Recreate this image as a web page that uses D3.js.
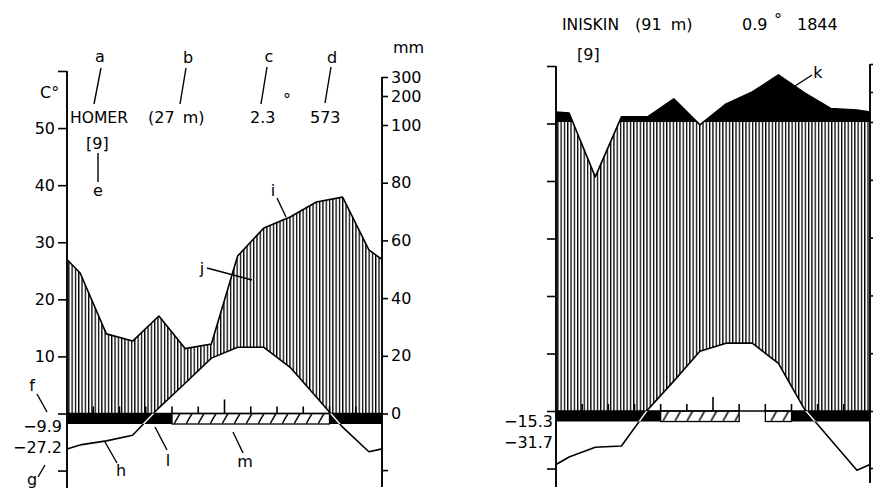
<!DOCTYPE html>
<html><head><meta charset="utf-8">
<script src="https://cdn.jsdelivr.net/npm/d3@7"></script>
<style>
html,body{margin:0;padding:0;background:#fff;}
svg{display:block;background:#fff;}
text{font-family:"DejaVu Sans",sans-serif;font-size:16px;fill:#000;}
</style></head><body>
<svg id="chart" width="873" height="494"></svg>
<script>
// ---- data ----
const months = ["Jan","Feb","Mar","Apr","May","Jun","Jul","Aug","Sep","Oct","Nov","Dec"];
const homerTemp = [-5.5,-4.8,-3.8,1.0,5.3,9.7,11.6,11.6,8.1,2.9,-2.4,-6.7];
const homerTempEdge = -6.2;
const homerPrecip = [48.7,27.6,25.1,33.8,22.5,24.1,54.6,64.3,68.1,73.3,75.0,56.7];
const homerPrecipEdge = 53.4;
const homerFrost = [2,2,2,2,1,1,1,1,1,1,2,2];   // 2 = mean daily min < 0, 1 = abs. min < 0, 0 = none
const iniskinTemp = [-8.0,-6.3,-6.1,0.2,5.2,10.4,11.8,11.8,8.3,0.3,-5.0,-10.3];
const iniskinTempEdge = -9.3;
const iniskinPrecip = [130,81,117,117,177,99,160,200,261,197,145,140];
const iniskinPrecipEdge = 133;
const iniskinFrost = [2,2,2,2,1,1,1,0,1,2,2,2];
const stationNames = ["HOMER","INISKIN"];
const stationElevNum = ["(27","(91"];
const stationElevUnit = [" m)"," m)"];
const stationMeanTemp = ["2.3","0.9"];
const stationAnnualPrecip = ["573","1844"];
const stationYears = ["[9]","[9]"];
const stationMinLabels = [["−9.9","−27.2"],["−15.3","−31.7"]];
const tempTicks = [60,50,40,30,20,10,0,-10];
const tempTickLabels = [50,40,30,20,10];
const mmTicks = [300,200,100,80,60,40,20,0];
const mmTickLabels = [300,200,100,80,60,40,20,0];

// ---- layout ----
const charts = [
  {temp:homerTemp, tempEdge:homerTempEdge, precip:homerPrecip, precipEdge:homerPrecipEdge, frost:homerFrost,
   x0:67, x1:382, zeroY:413.5, topY:71, bottomL:488, bottomR:487, mmRange:[413.5,125,96,77], labels:true,
   title:{nameX:70, nameY:123, nameLen:58, elevX:148, elevDx:3, tX:250, degX:287, degY:105, pX:310, yrX:86, yrY:149},
   minLab:{x:62, y1:18.5, y2:39.5}},
  {temp:iniskinTemp, tempEdge:iniskinTempEdge, precip:iniskinPrecip, precipEdge:iniskinPrecipEdge, frost:iniskinFrost,
   x0:556, x1:870, zeroY:411, topY:66, bottomL:487, bottomR:483, mmRange:[411,122,92,64], labels:false,
   title:{nameX:562, nameY:30, nameLen:57, elevX:635, elevDx:4, tX:742, degX:778, degY:25, pX:797, yrX:577, yrY:60},
   minLab:{x:553, y1:16, y2:37}}
];

const svg = d3.select("#chart");
const defs = svg.append("defs");
const SW = 1.6;

function runs(codes, code){
  const r=[]; let s=null;
  codes.forEach((c,i)=>{ if(c===code){ if(s===null) s=i; } else if(s!==null){ r.push([s,i]); s=null; } });
  if(s!==null) r.push([s,codes.length]);
  return r;
}

function drawChart(cfg, idx){
  const g = svg.append("g");
  const x = d3.scaleLinear().domain([0,12]).range([cfg.x0, cfg.x1]);
  const yT = d3.scaleLinear().domain([0,60]).range([cfg.zeroY, cfg.topY]);
  const yP = d3.scaleLinear().domain([0,100,200,300]).range(cfg.mmRange);
  const y0 = yT(0);
  const barH = 10.5;

  const tPts = [{m:0,v:cfg.tempEdge}].concat(cfg.temp.map((v,i)=>({m:i+0.5,v})), [{m:12,v:cfg.tempEdge}]);
  const pPts = [{m:0,v:cfg.precipEdge}].concat(cfg.precip.map((v,i)=>({m:i+0.5,v})), [{m:12,v:cfg.precipEdge}]);
  const lineT = d3.line().x(d=>x(d.m)).y(d=>yT(d.v));
  const lineP = d3.line().x(d=>x(d.m)).y(d=>yP(d.v));

  // clip paths
  defs.append("clipPath").attr("id","pc"+idx).append("path")
    .attr("d", d3.area().x(d=>x(d.m)).y0(y0).y1(d=>yP(d.v))(pPts));
  defs.append("clipPath").attr("id","tc"+idx).append("path")
    .attr("d", d3.area().x(d=>x(d.m)).y0(0).y1(d=>yT(d.v))(tPts));
  defs.append("clipPath").attr("id","kc"+idx).append("rect")
    .attr("x",x(0)).attr("y",0).attr("width",x(12)-x(0)).attr("height",yP(100));
  const bc = defs.append("clipPath").attr("id","bc"+idx);

  // patterns
  const vp = defs.append("pattern").attr("id","vh"+idx).attr("patternUnits","userSpaceOnUse")
    .attr("x",x(0)+1.2).attr("y",0).attr("width",3.3).attr("height",10);
  vp.append("rect").attr("x",0).attr("y",0).attr("width",1.3).attr("height",10).attr("fill","#000");
  const dp = defs.append("pattern").attr("id","dh"+idx).attr("patternUnits","userSpaceOnUse")
    .attr("x",x(4)+2).attr("y",y0).attr("width",12).attr("height",barH);
  dp.append("path").attr("d",`M0,${barH} L6,0`).attr("stroke","#000").attr("stroke-width",1.5).attr("fill","none");

  // humid period hatching
  g.append("g").attr("clip-path",`url(#pc${idx})`)
    .append("g").attr("clip-path",`url(#tc${idx})`)
    .append("rect").attr("x",x(0)).attr("y",0).attr("width",x(12)-x(0)).attr("height",y0)
    .attr("fill",`url(#vh${idx})`);

  // precipitation above 100 mm (black)
  g.append("path").attr("d", d3.area().x(d=>x(d.m)).y0(yP(100)).y1(d=>yP(d.v))(pPts))
    .attr("clip-path",`url(#kc${idx})`).attr("fill","#000");

  // frost bars
  runs(cfg.frost,2).forEach(([s,e])=>{
    g.append("rect").attr("x",x(s)).attr("y",y0).attr("width",x(e)-x(s)).attr("height",barH).attr("fill","#000");
    bc.append("rect").attr("x",x(s)).attr("y",y0).attr("width",x(e)-x(s)).attr("height",barH);
  });
  runs(cfg.frost,1).forEach(([s,e])=>{
    g.append("rect").attr("x",x(s)).attr("y",y0).attr("width",x(e)-x(s)).attr("height",barH)
      .attr("fill",`url(#dh${idx})`).attr("stroke","#000").attr("stroke-width",1.3);
  });

  // zero line and month ticks
  g.append("line").attr("x1",x(0)).attr("x2",x(12)).attr("y1",y0).attr("y2",y0)
    .attr("stroke","#000").attr("stroke-width",SW);
  d3.range(1,12).forEach(b=>{
    g.append("line").attr("x1",x(b)).attr("x2",x(b)).attr("y1",y0).attr("y2",y0-(b===6?14:7))
      .attr("stroke","#000").attr("stroke-width",SW);
  });

  // curves
  g.append("path").attr("d",lineP(pPts)).attr("fill","none").attr("stroke","#000").attr("stroke-width",SW).attr("stroke-linejoin","round");
  g.append("path").attr("d",lineT(tPts)).attr("fill","none").attr("stroke","#000").attr("stroke-width",SW).attr("stroke-linejoin","round");
  g.append("path").attr("d",lineT(tPts)).attr("fill","none").attr("stroke","#fff").attr("stroke-width",1.4)
    .attr("clip-path",`url(#bc${idx})`);

  // left axis (temperature)
  const la = g.append("g").attr("transform",`translate(${x(0)},0)`)
    .call(d3.axisLeft(yT).tickValues(tempTicks).tickSize(9).tickSizeOuter(0).tickPadding(3)
      .tickFormat(d=> (cfg.labels && tempTickLabels.includes(d)) ? d : ""));
  la.select(".domain").remove();
  la.selectAll(".tick line").attr("stroke","#000").attr("stroke-width",SW);
  la.append("line").attr("x1",0).attr("x2",0).attr("y1",yT(60)).attr("y2",cfg.bottomL).attr("stroke","#000").attr("stroke-width",1.9);

  // right axis (precipitation)
  const ra = g.append("g").attr("transform",`translate(${x(12)},0)`)
    .call(d3.axisRight(yP).tickValues(mmTicks).tickSize(6).tickSizeOuter(0).tickPadding(3)
      .tickFormat(d=> (cfg.labels && mmTickLabels.includes(d)) ? d : ""));
  ra.select(".domain").remove();
  ra.selectAll(".tick line").attr("stroke","#000").attr("stroke-width",SW);
  ra.append("line").attr("x1",0).attr("x2",6).attr("y1",yT(-10)).attr("y2",yT(-10)).attr("stroke","#000").attr("stroke-width",SW);
  ra.append("line").attr("x1",0).attr("x2",0).attr("y1",yP(300)).attr("y2",cfg.bottomR).attr("stroke","#000").attr("stroke-width",1.9);

  // titles
  const t = cfg.title;
  g.append("text").attr("x",t.nameX).attr("y",t.nameY).attr("textLength",t.nameLen).attr("lengthAdjust","spacingAndGlyphs").text(stationNames[idx]);
  const et = g.append("text").attr("x",t.elevX).attr("y",t.nameY).attr("xml:space","preserve");
  et.append("tspan").text(stationElevNum[idx]);
  et.append("tspan").attr("dx",t.elevDx).text(stationElevUnit[idx]);
  g.append("text").attr("x",t.tX).attr("y",t.nameY).text(stationMeanTemp[idx]);
  g.append("text").attr("x",t.degX).attr("y",t.degY).attr("text-anchor","middle").text("°");
  g.append("text").attr("x",t.pX).attr("y",t.nameY).text(stationAnnualPrecip[idx]);
  g.append("text").attr("x",t.yrX).attr("y",t.yrY).text(stationYears[idx]);

  // minimum temperature labels
  g.append("text").attr("x",cfg.minLab.x).attr("y",y0+cfg.minLab.y1).attr("text-anchor","end").text(stationMinLabels[idx][0]);
  g.append("text").attr("x",cfg.minLab.x).attr("y",y0+cfg.minLab.y2).attr("text-anchor","end").text(stationMinLabels[idx][1]);
}

charts.forEach(drawChart);

// unit labels
svg.append("text").attr("x",40).attr("y",98).text("C°");
svg.append("text").attr("x",393).attr("y",53).text("mm");

// legend letters with leader lines
const annotations = [
  {t:"a", x:100, y:62, l:[101,68,94,104]},
  {t:"b", x:188, y:63, l:[186,68,180,104]},
  {t:"c", x:269, y:62, l:[267,67,261,104]},
  {t:"d", x:332, y:63, l:[331,67,325,103]},
  {t:"e", x:98,  y:196, l:[98,153,98,182]},
  {t:"f", x:32,  y:391, l:[37,394,47,412]},
  {t:"g", x:32,  y:485, l:[38,477,45,465]},
  {t:"h", x:121, y:476, l:[105,442,117,463]},
  {t:"i", x:273, y:196, l:[277,198,286,217]},
  {t:"j", x:202, y:274, l:[207,268,252,280]},
  {t:"k", x:818, y:78,  l:[795,86,812,75]},
  {t:"l", x:168, y:466, l:[155,427,167,450]},
  {t:"m", x:245, y:467, l:[233,432,243,453]}
];
annotations.forEach(a=>{
  svg.append("line").attr("x1",a.l[0]).attr("y1",a.l[1]).attr("x2",a.l[2]).attr("y2",a.l[3])
    .attr("stroke","#000").attr("stroke-width",1.4);
  svg.append("text").attr("x",a.x).attr("y",a.y).attr("text-anchor","middle").text(a.t);
});
</script>
</body></html>
